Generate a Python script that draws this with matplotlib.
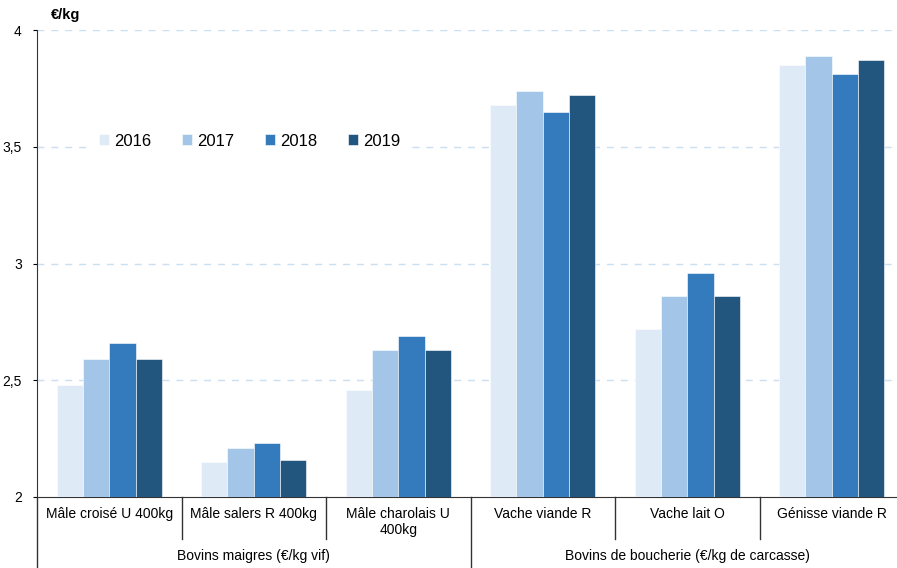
import matplotlib.pyplot as plt
import numpy as np

plt.rcParams['font.family'] = ['Liberation Sans', 'DejaVu Sans']

categories = ['Mâle croisé U 400kg', 'Mâle salers R 400kg', 'Mâle charolais U\n400kg',
              'Vache viande R', 'Vache lait O', 'Génisse viande R']
groups = ['Bovins maigres (€/kg vif)', 'Bovins de boucherie (€/kg de carcasse)']
years = ['2016', '2017', '2018', '2019']
v2016 = [2.48, 2.15, 2.46, 3.68, 2.72, 3.85]
v2017 = [2.59, 2.21, 2.63, 3.74, 2.86, 3.89]
v2018 = [2.66, 2.23, 2.69, 3.65, 2.96, 3.81]
v2019 = [2.59, 2.16, 2.63, 3.72, 2.86, 3.87]
colors = ['#deebf7', '#a3c6e8', '#347bbd', '#23567f']

W, H = 897, 568
fig = plt.figure(figsize=(W / 100, H / 100), dpi=100)
ax = fig.add_axes([37 / W, (H - 497) / H, (904 - 37) / W, (497 - 30) / H])

x = np.arange(len(categories))
bw = 0.182
for j, vals in enumerate([v2016, v2017, v2018, v2019]):
    ax.bar(x + (j - 1.5) * bw, np.array(vals) - 2, bw, bottom=2, color=colors[j],
           edgecolor='white', linewidth=0.4, label=years[j], zorder=3)

ax.set_ylim(2, 4)
ax.set_xlim(-0.5, 5.5)
ax.set_yticks([2, 2.5, 3, 3.5, 4])
ax.set_yticklabels(['2', '2,5', '3', '3,5', '4'], fontsize=10)
ax.tick_params(axis='y', length=3, width=0.8, pad=8)
ax.set_xticks([])
for yv in [2.5, 3, 3.5, 4]:
    ax.axhline(yv, color='#c9dff2', lw=1, ls=(0, (5, 5)), zorder=1)
for s in ['top', 'right']:
    ax.spines[s].set_visible(False)
ax.spines['left'].set_color('#333333')
ax.spines['bottom'].set_color('#333333')

# category labels and separators
tr = ax.get_xaxis_transform()
for i, c in enumerate(categories):
    ax.text(i, -0.022, c, transform=tr, ha='center', va='top', fontsize=10, linespacing=1.15)
for b in [0.5, 1.5, 3.5, 4.5]:
    ax.plot([b, b], [0, -0.09], transform=tr, color='#333333', lw=1, clip_on=False)
for b in [-0.5, 2.5]:
    ax.plot([b, b], [0, -0.16], transform=tr, color='#333333', lw=1, clip_on=False)
ax.text(1, -0.126, groups[0], transform=tr, ha='center', va='center', fontsize=10)
ax.text(4, -0.126, groups[1], transform=tr, ha='center', va='center', fontsize=10)

fig.text(66 / W, 1 - 15 / H, '€/kg', ha='center', va='center', fontsize=10.5, fontweight='bold')

leg = ax.legend(loc='center left', bbox_to_anchor=(47 / 867, (497 - 141) / 467), ncol=4,
                frameon=True, fontsize=12, handlelength=0.6, handleheight=0.6,
                handletextpad=0.3, columnspacing=1.85, borderpad=0.4)
leg.get_frame().set_edgecolor('none')
leg.get_frame().set_facecolor('white')
leg.get_frame().set_alpha(1)
leg.get_frame().set_boxstyle('square', pad=0)
leg.set_zorder(2)

fig.savefig('out.png', dpi=100)
